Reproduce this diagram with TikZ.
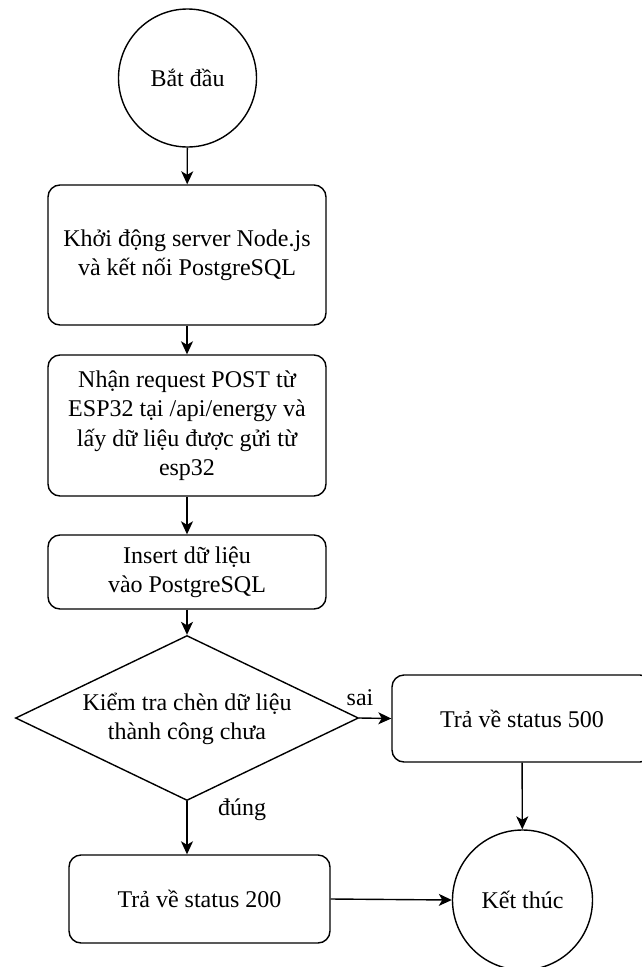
\documentclass[tikz,border=0pt]{standalone}
\usepackage{fontspec}
\setmainfont{Liberation Serif}
\usetikzlibrary{shapes.geometric,arrows.meta}
\begin{document}
\begin{tikzpicture}[x=1pt,y=-1pt,
  every node/.style={font=\fontsize{24}{29.5}\selectfont, text=black},
  term/.style={circle, draw, line width=1.4pt, inner sep=0pt},
  procbox/.style={rectangle, draw, line width=1.4pt, rounded corners=12pt, inner sep=0pt, align=center},
  decbox/.style={diamond, draw, line width=1.4pt, inner sep=0pt},
  arr/.style={line width=1.4pt, -{Stealth[length=13pt,width=12pt,inset=3.5pt]}},
  lbl/.style={inner sep=0pt}]
\useasboundingbox (0,0) rectangle (642,967);
\clip (0,0) rectangle (642,967);
\fill[white] (0,0) rectangle (642,967);

\node[term, minimum size=138pt] (start) at (187.5,78) {Bắt đầu};
\node[procbox, minimum width=278pt, minimum height=140pt] (b1) at (187,255)
  {Khởi động server Node.js\\và kết nối PostgreSQL};
\node[procbox, minimum width=278pt, minimum height=141pt] (b2) at (187,425.5)
  {Nhận request POST từ\\ESP32 tại /api/energy và\\lấy dữ liệu được gửi từ\\esp32};
\node[procbox, minimum width=278pt, minimum height=74pt] (b3) at (187,572)
  {Insert dữ liệu\\vào PostgreSQL};
\node[decbox, minimum width=343pt, minimum height=165pt] (dec) at (187,718) {};
\node[lbl, align=center] (dectext) at (187,719) {Kiểm tra chèn dữ liệu\\thành công chưa};
\node[procbox, minimum width=260pt, minimum height=87pt] (b500) at (522,718.5) {Trả về status 500};
\node[procbox, minimum width=261pt, minimum height=88pt] (b200) at (199.5,899) {Trả về status 200};
\node[term, minimum size=140pt] (end) at (522.5,900) {Kết thúc};

\node[lbl] (sai) at (360,698) {sai};
\node[lbl] (dung) at (242,810) {đúng};

\draw[arr] (start) -- (b1);
\draw[arr] (b1) -- (b2);
\draw[arr] (b2) -- (b3);
\draw[arr] (b3) -- (dec);
\draw[arr] (dec.east) -- (b500.west);
\draw[arr] (b500) -- (end);
\draw[arr] (dec.south) -- (dec.south |- b200.north);
\draw[arr] (b200.east) -- (end.west);
\end{tikzpicture}
\end{document}
